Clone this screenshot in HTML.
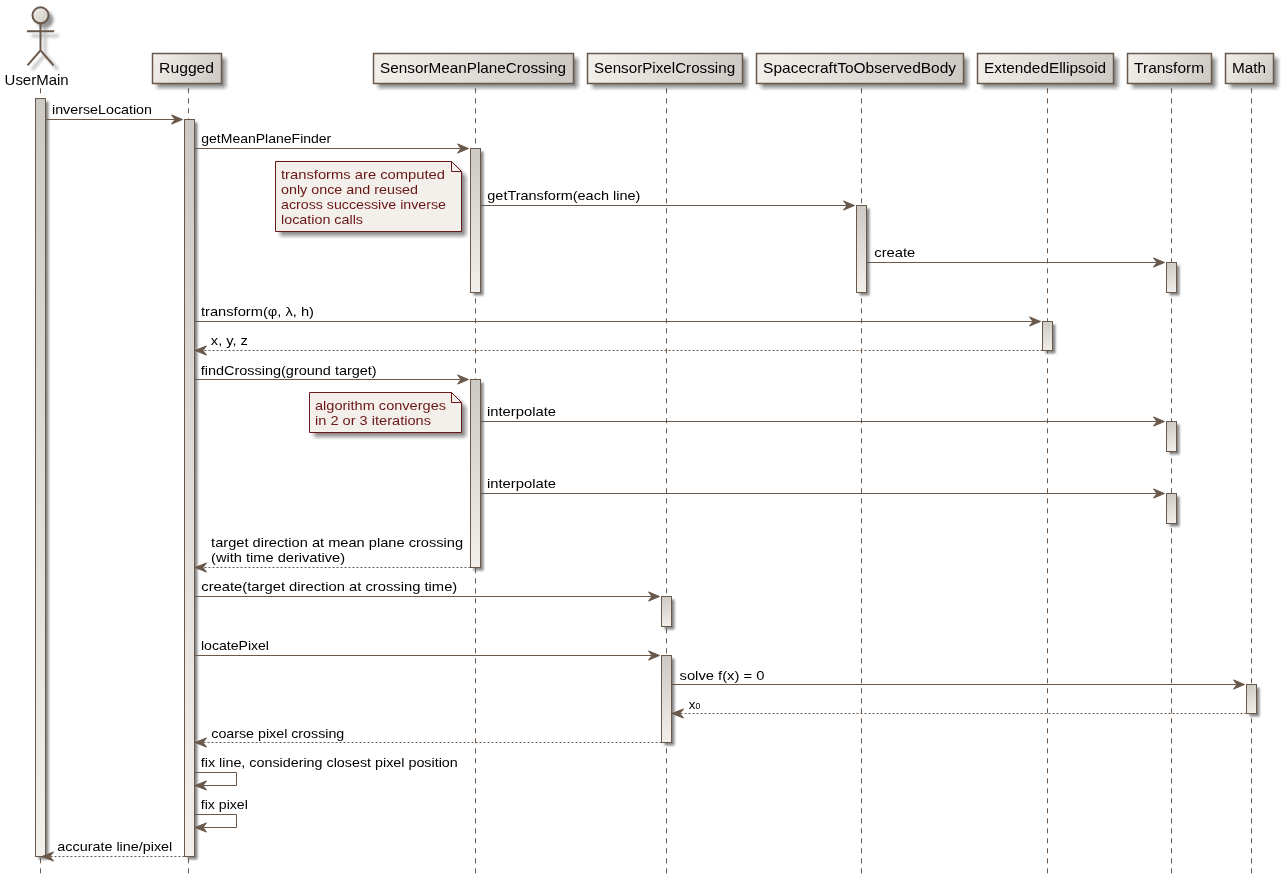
<!DOCTYPE html>
<html><head><meta charset="utf-8"><title>Inverse location sequence</title>
<style>html,body{margin:0;padding:0;background:#fff;overflow:hidden}svg{display:block} text{opacity:.999}</style></head>
<body><svg width="1286" height="880" viewBox="0 0 1286 880" font-family='"Liberation Sans", sans-serif'>
<defs>
<filter id="sh" x="-30%" y="-50%" width="160%" height="200%"><feConvolveMatrix order="6" kernelMatrix="1 1 1 1 1 1 1 1 1 1 1 1 1 1 1 1 1 1 1 1 1 1 1 1 1 1 1 1 1 1 1 1 1 1 1 1" divisor="36" edgeMode="none"/></filter>
<filter id="sh2" x="-100%" y="-50%" width="300%" height="200%"><feGaussianBlur stdDeviation="0.8"/></filter>
<filter id="sha" x="-50%" y="-50%" width="200%" height="200%"><feGaussianBlur stdDeviation="1.8"/></filter>
<linearGradient id="g1" gradientUnits="userSpaceOnUse" x1="152.5" y1="53.5" x2="221.5" y2="83.5"><stop offset="0" stop-color="#F3EFEB"/><stop offset="1" stop-color="#CCC9C5"/></linearGradient><linearGradient id="g2" gradientUnits="userSpaceOnUse" x1="373.5" y1="53.5" x2="573.5" y2="83.5"><stop offset="0" stop-color="#F3EFEB"/><stop offset="1" stop-color="#CCC9C5"/></linearGradient><linearGradient id="g3" gradientUnits="userSpaceOnUse" x1="587.5" y1="53.5" x2="742.5" y2="83.5"><stop offset="0" stop-color="#F3EFEB"/><stop offset="1" stop-color="#CCC9C5"/></linearGradient><linearGradient id="g4" gradientUnits="userSpaceOnUse" x1="756.5" y1="53.5" x2="963.5" y2="83.5"><stop offset="0" stop-color="#F3EFEB"/><stop offset="1" stop-color="#CCC9C5"/></linearGradient><linearGradient id="g5" gradientUnits="userSpaceOnUse" x1="977.5" y1="53.5" x2="1113.5" y2="83.5"><stop offset="0" stop-color="#F3EFEB"/><stop offset="1" stop-color="#CCC9C5"/></linearGradient><linearGradient id="g6" gradientUnits="userSpaceOnUse" x1="1127.5" y1="53.5" x2="1211.5" y2="83.5"><stop offset="0" stop-color="#F3EFEB"/><stop offset="1" stop-color="#CCC9C5"/></linearGradient><linearGradient id="g7" gradientUnits="userSpaceOnUse" x1="1225.5" y1="53.5" x2="1273.5" y2="83.5"><stop offset="0" stop-color="#F3EFEB"/><stop offset="1" stop-color="#CCC9C5"/></linearGradient><linearGradient id="g8" gradientUnits="userSpaceOnUse" x1="32.5" y1="7.3" x2="48.5" y2="23.3"><stop offset="0" stop-color="#F3EFEB"/><stop offset="1" stop-color="#CCC9C5"/></linearGradient><linearGradient id="g9" gradientUnits="userSpaceOnUse" x1="35.5" y1="98.5" x2="45.5" y2="856.5"><stop offset="0" stop-color="#CCC9C5"/><stop offset="1" stop-color="#F3EFEB"/></linearGradient><linearGradient id="g10" gradientUnits="userSpaceOnUse" x1="184.5" y1="119.5" x2="194.5" y2="856.5"><stop offset="0" stop-color="#CCC9C5"/><stop offset="1" stop-color="#F3EFEB"/></linearGradient><linearGradient id="g11" gradientUnits="userSpaceOnUse" x1="470.5" y1="148.5" x2="480.5" y2="292.5"><stop offset="0" stop-color="#CCC9C5"/><stop offset="1" stop-color="#F3EFEB"/></linearGradient><linearGradient id="g12" gradientUnits="userSpaceOnUse" x1="470.5" y1="379.5" x2="480.5" y2="567.5"><stop offset="0" stop-color="#CCC9C5"/><stop offset="1" stop-color="#F3EFEB"/></linearGradient><linearGradient id="g13" gradientUnits="userSpaceOnUse" x1="856.5" y1="205.5" x2="866.5" y2="292.5"><stop offset="0" stop-color="#CCC9C5"/><stop offset="1" stop-color="#F3EFEB"/></linearGradient><linearGradient id="g14" gradientUnits="userSpaceOnUse" x1="1166.5" y1="262.5" x2="1176.5" y2="292.5"><stop offset="0" stop-color="#CCC9C5"/><stop offset="1" stop-color="#F3EFEB"/></linearGradient><linearGradient id="g15" gradientUnits="userSpaceOnUse" x1="1166.5" y1="421.5" x2="1176.5" y2="451.5"><stop offset="0" stop-color="#CCC9C5"/><stop offset="1" stop-color="#F3EFEB"/></linearGradient><linearGradient id="g16" gradientUnits="userSpaceOnUse" x1="1166.5" y1="493.5" x2="1176.5" y2="523.5"><stop offset="0" stop-color="#CCC9C5"/><stop offset="1" stop-color="#F3EFEB"/></linearGradient><linearGradient id="g17" gradientUnits="userSpaceOnUse" x1="1042.5" y1="321.5" x2="1052.5" y2="350.5"><stop offset="0" stop-color="#CCC9C5"/><stop offset="1" stop-color="#F3EFEB"/></linearGradient><linearGradient id="g18" gradientUnits="userSpaceOnUse" x1="661.5" y1="596.5" x2="671.5" y2="626.5"><stop offset="0" stop-color="#CCC9C5"/><stop offset="1" stop-color="#F3EFEB"/></linearGradient><linearGradient id="g19" gradientUnits="userSpaceOnUse" x1="661.5" y1="655.5" x2="671.5" y2="742.5"><stop offset="0" stop-color="#CCC9C5"/><stop offset="1" stop-color="#F3EFEB"/></linearGradient><linearGradient id="g20" gradientUnits="userSpaceOnUse" x1="1246.5" y1="684.5" x2="1256.5" y2="713.5"><stop offset="0" stop-color="#CCC9C5"/><stop offset="1" stop-color="#F3EFEB"/></linearGradient>
</defs>
<rect width="1286" height="880" fill="#fff"/>
<rect x="38.5" y="101.5" width="10" height="758" fill="#000" opacity=".47" filter="url(#sh2)"/>
<rect x="187.5" y="122.5" width="10" height="737" fill="#000" opacity=".47" filter="url(#sh2)"/>
<rect x="473.5" y="151.5" width="10" height="144" fill="#000" opacity=".47" filter="url(#sh2)"/>
<rect x="473.5" y="382.5" width="10" height="188" fill="#000" opacity=".47" filter="url(#sh2)"/>
<rect x="859.5" y="208.5" width="10" height="87" fill="#000" opacity=".47" filter="url(#sh2)"/>
<rect x="1169.5" y="265.5" width="10" height="30" fill="#000" opacity=".47" filter="url(#sh2)"/>
<rect x="1169.5" y="424.5" width="10" height="30" fill="#000" opacity=".47" filter="url(#sh2)"/>
<rect x="1169.5" y="496.5" width="10" height="30" fill="#000" opacity=".47" filter="url(#sh2)"/>
<rect x="1045.5" y="324.5" width="10" height="29" fill="#000" opacity=".47" filter="url(#sh2)"/>
<rect x="664.5" y="599.5" width="10" height="30" fill="#000" opacity=".47" filter="url(#sh2)"/>
<rect x="664.5" y="658.5" width="10" height="87" fill="#000" opacity=".47" filter="url(#sh2)"/>
<rect x="1249.5" y="687.5" width="10" height="29" fill="#000" opacity=".47" filter="url(#sh2)"/>
<line x1="40.5" y1="88.3" x2="40.5" y2="874" stroke="#6A584B" stroke-width="1" stroke-dasharray="5,5"/>
<line x1="188.5" y1="88.3" x2="188.5" y2="874" stroke="#6A584B" stroke-width="1" stroke-dasharray="5,5"/>
<line x1="475.5" y1="88.3" x2="475.5" y2="874" stroke="#6A584B" stroke-width="1" stroke-dasharray="5,5"/>
<line x1="666.5" y1="88.3" x2="666.5" y2="874" stroke="#6A584B" stroke-width="1" stroke-dasharray="5,5"/>
<line x1="861.5" y1="88.3" x2="861.5" y2="874" stroke="#6A584B" stroke-width="1" stroke-dasharray="5,5"/>
<line x1="1047.5" y1="88.3" x2="1047.5" y2="874" stroke="#6A584B" stroke-width="1" stroke-dasharray="5,5"/>
<line x1="1171.5" y1="88.3" x2="1171.5" y2="874" stroke="#6A584B" stroke-width="1" stroke-dasharray="5,5"/>
<line x1="1251.5" y1="88.3" x2="1251.5" y2="874" stroke="#6A584B" stroke-width="1" stroke-dasharray="5,5"/>
<rect x="156.5" y="57.5" width="69" height="30" fill="#000" opacity=".44" filter="url(#sh)"/>
<rect x="377.5" y="57.5" width="200" height="30" fill="#000" opacity=".44" filter="url(#sh)"/>
<rect x="591.5" y="57.5" width="155" height="30" fill="#000" opacity=".44" filter="url(#sh)"/>
<rect x="760.5" y="57.5" width="207" height="30" fill="#000" opacity=".44" filter="url(#sh)"/>
<rect x="981.5" y="57.5" width="136" height="30" fill="#000" opacity=".44" filter="url(#sh)"/>
<rect x="1131.5" y="57.5" width="84" height="30" fill="#000" opacity=".44" filter="url(#sh)"/>
<rect x="1229.5" y="57.5" width="48" height="30" fill="#000" opacity=".44" filter="url(#sh)"/>
<rect x="152.5" y="53.5" width="69" height="30" fill="url(#g1)" stroke="#6A584B" stroke-width="1.5"/>
<text x="159.10" y="73.00" font-size="14.4" fill="#000" textLength="55.00" lengthAdjust="spacingAndGlyphs">Rugged</text>
<rect x="373.5" y="53.5" width="200" height="30" fill="url(#g2)" stroke="#6A584B" stroke-width="1.5"/>
<text x="380.10" y="73.00" font-size="14.4" fill="#000" textLength="186.00" lengthAdjust="spacingAndGlyphs">SensorMeanPlaneCrossing</text>
<rect x="587.5" y="53.5" width="155" height="30" fill="url(#g3)" stroke="#6A584B" stroke-width="1.5"/>
<text x="594.10" y="73.00" font-size="14.4" fill="#000" textLength="141.00" lengthAdjust="spacingAndGlyphs">SensorPixelCrossing</text>
<rect x="756.5" y="53.5" width="207" height="30" fill="url(#g4)" stroke="#6A584B" stroke-width="1.5"/>
<text x="763.10" y="73.00" font-size="14.4" fill="#000" textLength="193.00" lengthAdjust="spacingAndGlyphs">SpacecraftToObservedBody</text>
<rect x="977.5" y="53.5" width="136" height="30" fill="url(#g5)" stroke="#6A584B" stroke-width="1.5"/>
<text x="984.10" y="73.00" font-size="14.4" fill="#000" textLength="122.00" lengthAdjust="spacingAndGlyphs">ExtendedEllipsoid</text>
<rect x="1127.5" y="53.5" width="84" height="30" fill="url(#g6)" stroke="#6A584B" stroke-width="1.5"/>
<text x="1134.10" y="73.00" font-size="14.4" fill="#000" textLength="70.00" lengthAdjust="spacingAndGlyphs">Transform</text>
<rect x="1225.5" y="53.5" width="48" height="30" fill="url(#g7)" stroke="#6A584B" stroke-width="1.5"/>
<text x="1232.10" y="73.00" font-size="14.4" fill="#000" textLength="34.00" lengthAdjust="spacingAndGlyphs">Math</text>
<g transform="translate(4.5,4.5)" filter="url(#sha)"><circle cx="40.5" cy="15.3" r="8.5" fill="#000" opacity=".42"/><path d="M40.5 23.3 V50.3 M26.9 31.3 H54.1 M40.5 50.3 L27.5 65.3 M40.5 50.3 L53.5 65.3" stroke="#000" stroke-width="3" fill="none" opacity=".25"/></g>
<g stroke="#6A584B" stroke-width="2" fill="url(#g8)"><circle cx="40.5" cy="15.3" r="8"/></g>
<path d="M40.5 23.3 V50.3 M26.9 31.3 H54.1 M40.5 50.3 L27.5 65.3 M40.5 50.3 L53.5 65.3" stroke="#6A584B" stroke-width="2" fill="none"/>
<text x="4.60" y="84.70" font-size="14.4" fill="#000" textLength="64.00" lengthAdjust="spacingAndGlyphs">UserMain</text>
<rect x="35.5" y="98.5" width="10" height="758" fill="url(#g9)" stroke="#6A584B" stroke-width="1"/>
<rect x="184.5" y="119.5" width="10" height="737" fill="url(#g10)" stroke="#6A584B" stroke-width="1"/>
<rect x="470.5" y="148.5" width="10" height="144" fill="url(#g11)" stroke="#6A584B" stroke-width="1"/>
<rect x="470.5" y="379.5" width="10" height="188" fill="url(#g12)" stroke="#6A584B" stroke-width="1"/>
<rect x="856.5" y="205.5" width="10" height="87" fill="url(#g13)" stroke="#6A584B" stroke-width="1"/>
<rect x="1166.5" y="262.5" width="10" height="30" fill="url(#g14)" stroke="#6A584B" stroke-width="1"/>
<rect x="1166.5" y="421.5" width="10" height="30" fill="url(#g15)" stroke="#6A584B" stroke-width="1"/>
<rect x="1166.5" y="493.5" width="10" height="30" fill="url(#g16)" stroke="#6A584B" stroke-width="1"/>
<rect x="1042.5" y="321.5" width="10" height="29" fill="url(#g17)" stroke="#6A584B" stroke-width="1"/>
<rect x="661.5" y="596.5" width="10" height="30" fill="url(#g18)" stroke="#6A584B" stroke-width="1"/>
<rect x="661.5" y="655.5" width="10" height="87" fill="url(#g19)" stroke="#6A584B" stroke-width="1"/>
<rect x="1246.5" y="684.5" width="10" height="29" fill="url(#g20)" stroke="#6A584B" stroke-width="1"/>
<line x1="45.5" y1="119.5" x2="181.5" y2="119.5" stroke="#6A584B" stroke-width="1"/>
<polygon points="171.5,114.9 182.5,119.5 171.5,124.1 175.0,119.5" fill="#6A584B" stroke="#6A584B" stroke-width="1"/>
<line x1="194.5" y1="148.5" x2="467.5" y2="148.5" stroke="#6A584B" stroke-width="1"/>
<polygon points="457.5,143.9 468.5,148.5 457.5,153.1 461.0,148.5" fill="#6A584B" stroke="#6A584B" stroke-width="1"/>
<line x1="480.5" y1="205.5" x2="853.5" y2="205.5" stroke="#6A584B" stroke-width="1"/>
<polygon points="843.5,200.9 854.5,205.5 843.5,210.1 847.0,205.5" fill="#6A584B" stroke="#6A584B" stroke-width="1"/>
<line x1="866.5" y1="262.5" x2="1163.5" y2="262.5" stroke="#6A584B" stroke-width="1"/>
<polygon points="1153.5,257.9 1164.5,262.5 1153.5,267.1 1157.0,262.5" fill="#6A584B" stroke="#6A584B" stroke-width="1"/>
<line x1="194.5" y1="321.5" x2="1039.5" y2="321.5" stroke="#6A584B" stroke-width="1"/>
<polygon points="1029.5,316.9 1040.5,321.5 1029.5,326.1 1033.0,321.5" fill="#6A584B" stroke="#6A584B" stroke-width="1"/>
<line x1="1042.5" y1="350.5" x2="196.0" y2="350.5" stroke="#6A584B" stroke-width="1" stroke-dasharray="2,2"/>
<polygon points="206.5,345.9 195.0,350.5 206.5,355.1 203.0,350.5" fill="#6A584B" stroke="#6A584B" stroke-width="1"/>
<line x1="194.5" y1="379.5" x2="467.5" y2="379.5" stroke="#6A584B" stroke-width="1"/>
<polygon points="457.5,374.9 468.5,379.5 457.5,384.1 461.0,379.5" fill="#6A584B" stroke="#6A584B" stroke-width="1"/>
<line x1="480.5" y1="421.5" x2="1163.5" y2="421.5" stroke="#6A584B" stroke-width="1"/>
<polygon points="1153.5,416.9 1164.5,421.5 1153.5,426.1 1157.0,421.5" fill="#6A584B" stroke="#6A584B" stroke-width="1"/>
<line x1="480.5" y1="493.5" x2="1163.5" y2="493.5" stroke="#6A584B" stroke-width="1"/>
<polygon points="1153.5,488.9 1164.5,493.5 1153.5,498.1 1157.0,493.5" fill="#6A584B" stroke="#6A584B" stroke-width="1"/>
<line x1="470.5" y1="567.5" x2="196.0" y2="567.5" stroke="#6A584B" stroke-width="1" stroke-dasharray="2,2"/>
<polygon points="206.5,562.9 195.0,567.5 206.5,572.1 203.0,567.5" fill="#6A584B" stroke="#6A584B" stroke-width="1"/>
<line x1="194.5" y1="596.5" x2="658.5" y2="596.5" stroke="#6A584B" stroke-width="1"/>
<polygon points="648.5,591.9 659.5,596.5 648.5,601.1 652.0,596.5" fill="#6A584B" stroke="#6A584B" stroke-width="1"/>
<line x1="194.5" y1="655.5" x2="658.5" y2="655.5" stroke="#6A584B" stroke-width="1"/>
<polygon points="648.5,650.9 659.5,655.5 648.5,660.1 652.0,655.5" fill="#6A584B" stroke="#6A584B" stroke-width="1"/>
<line x1="671.5" y1="684.5" x2="1243.5" y2="684.5" stroke="#6A584B" stroke-width="1"/>
<polygon points="1233.5,679.9 1244.5,684.5 1233.5,689.1 1237.0,684.5" fill="#6A584B" stroke="#6A584B" stroke-width="1"/>
<line x1="1246.5" y1="713.5" x2="673.0" y2="713.5" stroke="#6A584B" stroke-width="1" stroke-dasharray="2,2"/>
<polygon points="683.5,708.9 672.0,713.5 683.5,718.1 680.0,713.5" fill="#6A584B" stroke="#6A584B" stroke-width="1"/>
<line x1="661.5" y1="742.5" x2="196.0" y2="742.5" stroke="#6A584B" stroke-width="1" stroke-dasharray="2,2"/>
<polygon points="206.5,737.9 195.0,742.5 206.5,747.1 203.0,742.5" fill="#6A584B" stroke="#6A584B" stroke-width="1"/>
<line x1="184.5" y1="856.5" x2="43.0" y2="856.5" stroke="#6A584B" stroke-width="1" stroke-dasharray="2,2"/>
<polygon points="53.5,851.9 42.0,856.5 53.5,861.1 50.0,856.5" fill="#6A584B" stroke="#6A584B" stroke-width="1"/>
<polyline points="194.5,772.5 236.5,772.5 236.5,785.5 196.0,785.5" fill="none" stroke="#6A584B" stroke-width="1"/>
<polygon points="206.5,780.9 195.0,785.5 206.5,790.1 203.0,785.5" fill="#6A584B" stroke="#6A584B" stroke-width="1"/>
<polyline points="194.5,814.5 236.5,814.5 236.5,827.5 196.0,827.5" fill="none" stroke="#6A584B" stroke-width="1"/>
<polygon points="206.5,822.9 195.0,827.5 206.5,832.1 203.0,827.5" fill="#6A584B" stroke="#6A584B" stroke-width="1"/>
<text x="52.00" y="114.00" font-size="13.4" fill="#000" textLength="100.00" lengthAdjust="spacingAndGlyphs">inverseLocation</text>
<text x="201.30" y="143.00" font-size="13.4" fill="#000" textLength="130.00" lengthAdjust="spacingAndGlyphs">getMeanPlaneFinder</text>
<text x="487.30" y="200.00" font-size="13.4" fill="#000" textLength="153.00" lengthAdjust="spacingAndGlyphs">getTransform(each line)</text>
<text x="874.30" y="257.00" font-size="13.4" fill="#000" textLength="41.00" lengthAdjust="spacingAndGlyphs">create</text>
<text x="201.00" y="316.00" font-size="13.4" fill="#000" textLength="113.00" lengthAdjust="spacingAndGlyphs">transform(φ, λ, h)</text>
<text x="210.85" y="345.00" font-size="13.4" fill="#000" textLength="37.00" lengthAdjust="spacingAndGlyphs">x, y, z</text>
<text x="200.70" y="375.00" font-size="13.4" fill="#000" textLength="176.00" lengthAdjust="spacingAndGlyphs">findCrossing(ground target)</text>
<text x="487.00" y="416.00" font-size="13.4" fill="#000" textLength="69.00" lengthAdjust="spacingAndGlyphs">interpolate</text>
<text x="487.00" y="488.00" font-size="13.4" fill="#000" textLength="69.00" lengthAdjust="spacingAndGlyphs">interpolate</text>
<text x="201.30" y="591.00" font-size="13.4" fill="#000" textLength="256.00" lengthAdjust="spacingAndGlyphs">create(target direction at crossing time)</text>
<text x="201.00" y="650.00" font-size="13.4" fill="#000" textLength="68.00" lengthAdjust="spacingAndGlyphs">locatePixel</text>
<text x="679.50" y="680.00" font-size="13.4" fill="#000" textLength="85.00" lengthAdjust="spacingAndGlyphs">solve f(x) = 0</text>
<text x="211.30" y="738.00" font-size="13.4" fill="#000" textLength="133.00" lengthAdjust="spacingAndGlyphs">coarse pixel crossing</text>
<text x="200.80" y="767.00" font-size="13.4" fill="#000" textLength="257.00" lengthAdjust="spacingAndGlyphs">fix line, considering closest pixel position</text>
<text x="200.80" y="809.00" font-size="13.4" fill="#000" textLength="47.00" lengthAdjust="spacingAndGlyphs">fix pixel</text>
<text x="57.30" y="851.00" font-size="13.4" fill="#000" textLength="115.00" lengthAdjust="spacingAndGlyphs">accurate line/pixel</text>
<text x="211.10" y="547.00" font-size="13.4" fill="#000" textLength="252.00" lengthAdjust="spacingAndGlyphs">target direction at mean plane crossing</text>
<text x="211.10" y="562.00" font-size="13.4" fill="#000" textLength="134.00" lengthAdjust="spacingAndGlyphs">(with time derivative)</text>
<text x="688.85" y="709" font-size="13.4" fill="#000">x<tspan font-size="8.6">0</tspan></text>
<path d="M275.5,161.5 L451.5,161.5 L461.5,171.5 L461.5,231.5 L275.5,231.5 Z" transform="translate(4,4)" fill="#000" opacity=".44" filter="url(#sh)"/>
<path d="M275.5,161.5 L451.5,161.5 L461.5,171.5 L461.5,231.5 L275.5,231.5 Z" fill="#F3EFEB" stroke="#691616" stroke-width="1"/>
<path d="M451.5,161.5 L451.5,171.5 L461.5,171.5" fill="none" stroke="#691616" stroke-width="1"/>
<text x="281.00" y="179.00" font-size="13.4" fill="#691616" textLength="164.00" lengthAdjust="spacingAndGlyphs">transforms are computed</text>
<text x="281.00" y="194.00" font-size="13.4" fill="#691616" textLength="137.00" lengthAdjust="spacingAndGlyphs">only once and reused</text>
<text x="281.00" y="209.00" font-size="13.4" fill="#691616" textLength="165.00" lengthAdjust="spacingAndGlyphs">across successive inverse</text>
<text x="281.00" y="224.00" font-size="13.4" fill="#691616" textLength="82.00" lengthAdjust="spacingAndGlyphs">location calls</text>
<path d="M309.5,392.5 L451.5,392.5 L461.5,402.5 L461.5,432.5 L309.5,432.5 Z" transform="translate(4,4)" fill="#000" opacity=".44" filter="url(#sh)"/>
<path d="M309.5,392.5 L451.5,392.5 L461.5,402.5 L461.5,432.5 L309.5,432.5 Z" fill="#F3EFEB" stroke="#691616" stroke-width="1"/>
<path d="M451.5,392.5 L451.5,402.5 L461.5,402.5" fill="none" stroke="#691616" stroke-width="1"/>
<text x="315.00" y="410.00" font-size="13.4" fill="#691616" textLength="131.00" lengthAdjust="spacingAndGlyphs">algorithm converges</text>
<text x="315.00" y="425.00" font-size="13.4" fill="#691616" textLength="116.00" lengthAdjust="spacingAndGlyphs">in 2 or 3 iterations</text>
</svg></body></html>
